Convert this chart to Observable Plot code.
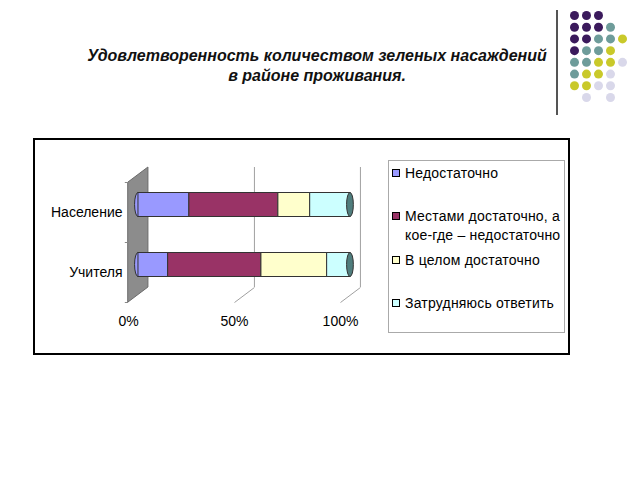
<!DOCTYPE html>
<html><head><meta charset="utf-8">
<script src="https://cdn.jsdelivr.net/npm/d3@7"></script>
<script src="https://cdn.jsdelivr.net/npm/@observablehq/plot@0.6"></script>
<style>
body{margin:0;width:640px;height:480px;background:#fff;position:relative;font-family:"Liberation Sans",Arial,sans-serif;overflow:hidden}
#title{position:absolute;left:60px;width:514px;top:46px;text-align:center;font-weight:bold;font-style:italic;font-size:16px;line-height:20px;color:#111}
#vline{position:absolute;left:556px;top:10px;width:2px;height:105px;background:#555}
#deco{position:absolute;left:560px;top:0}
#box{position:absolute;left:33px;top:138px;width:537px;height:217px;border:2px solid #000;box-sizing:border-box}
#chart{position:absolute;left:35px;top:140px}
#legend{position:absolute;left:388px;top:160px;width:177px;height:173px;border:1px solid #aaa;box-sizing:border-box}
.item{position:absolute;left:0;width:175px}
.sw{position:absolute;left:3px;top:5px;width:8px;height:8px;border:1px solid #000;box-sizing:border-box}
.lt{position:absolute;left:16px;top:0;width:160px;font-size:14px;line-height:19px;color:#000;letter-spacing:0.2px}
</style></head>
<body>
<div id="title">Удовлетворенность количеством зеленых насаждений<br>в районе проживания.</div>
<div id="vline"></div>
<div id="deco"></div>
<div id="box"></div>
<div id="chart"></div>
<div id="legend"></div>
<script>
// ---- data ----
const categories = ["Население", "Учителя"];
const series = ["Недостаточно", "Местами достаточно, а кое-где – недостаточно", "В целом достаточно", "Затрудняюсь ответить"];
const seriesColors = ["#9999ff", "#993366", "#ffffcc", "#ccffff"];
const valuesNaselenie = [24, 42, 15, 19];
const valuesUchitelya = [14, 44, 31, 11];
const xTicks = [0, 50, 100];
const decoRows = ["PPP", "PPPT", "PPTTY", "PTTY", "TTYYL", "TYYL", "YYLL", " L L"];
const decoColors = {P: "#3b1a5c", T: "#6e9c9a", Y: "#c9c92a", L: "#d9d8ea"};

// ---- build table ----
const values = [valuesNaselenie, valuesUchitelya];
const segments = [];
categories.forEach((cat, i) => {
  const idx = categories.length - 1 - i;
  let x0 = 0;
  values[i].forEach((v, j) => {
    segments.push({cat, idx, series: series[j], x1: x0, x2: x0 + v});
    x0 += v;
  });
});
const catRows = categories.map((cat, i) => ({cat, idx: categories.length - 1 - i}));

const DX = 9.4, DY = 0.25, HALF = 0.2, CAP = 1.6;
const by1 = d => d.idx + 0.5 - HALF + DY / 2;
const by2 = d => d.idx + 0.5 + HALF + DY / 2;

const chart = Plot.plot({
  width: 345, height: 200,
  x: {domain: [0, 100], range: [93, 305], axis: null},
  y: {domain: [0, 2], range: [162, 42], axis: null},
  color: {domain: series, range: seriesColors},
  style: {fontFamily: "Liberation Sans, Arial, sans-serif", fontSize: "14px", color: "#000", background: "transparent"},
  marks: [
    Plot.areaY([{x: 0, y1: 0, y2: 2}, {x: DX, y1: DY, y2: 2 + DY}], {x: "x", y1: "y1", y2: "y2", fill: "#8c8c8c", stroke: "#6a6a6a"}),
    Plot.ruleX(xTicks.slice(1), {x: d => d + DX, y1: DY, y2: 2 + DY, stroke: "#a0a0a0"}),
    Plot.link(xTicks.slice(1), {x1: d => d, y1: 0, x2: d => d + DX, y2: DY, stroke: "#a0a0a0"}),
    Plot.ruleY([0, 1, 2], {x1: -1.5, x2: 0, stroke: "#888"}),
    Plot.rect(catRows, {x1: DX / 2 - CAP, x2: DX / 2 + CAP, y1: by1, y2: by2, fill: seriesColors[0], stroke: "#333", rx: 3.5, ry: 12}),
    Plot.rect(segments, {x1: d => d.x1 + DX / 2, x2: d => d.x2 + DX / 2, y1: by1, y2: by2, fill: "series", stroke: "#333", strokeWidth: 1}),
    Plot.rect(catRows, {x1: 100 + DX / 2 - CAP, x2: 100 + DX / 2 + CAP, y1: by1, y2: by2, fill: "#4f7d7d", stroke: "#333", rx: 3.5, ry: 12}),
    Plot.text(catRows, {x: 0, y: d => d.idx + 0.5, text: "cat", textAnchor: "end", dx: -6, fill: "#000", fontSize: 14}),
    Plot.text(xTicks, {x: d => d, y: 0, text: d => d + "%", dy: 19, fill: "#000", fontSize: 14})
  ]
});
document.getElementById("chart").appendChild(chart);

// legend
const legend = document.getElementById("legend");
series.forEach((s, i) => {
  const it = document.createElement("div");
  it.className = "item";
  it.style.top = (2.5 + 43.5 * i) + "px";
  const sw = document.createElement("div");
  sw.className = "sw";
  sw.style.background = seriesColors[i];
  const t = document.createElement("div");
  t.className = "lt";
  t.textContent = s;
  it.appendChild(sw); it.appendChild(t);
  legend.appendChild(it);
});

// decoration
const decoDots = [];
decoRows.forEach((row, r) => [...row].forEach((ch, c) => { if (ch !== " ") decoDots.push({r, c, k: ch}); }));
const deco = Plot.plot({
  width: 80, height: 110,
  x: {domain: [0, 4], range: [14, 62], axis: null},
  y: {domain: [0, 7], range: [15, 97], axis: null},
  color: {type: "identity"},
  style: {background: "transparent"},
  marks: [Plot.dot(decoDots, {x: "c", y: "r", r: 4.5, fill: d => decoColors[d.k]})]
});
document.getElementById("deco").appendChild(deco);
</script>
</body></html>
